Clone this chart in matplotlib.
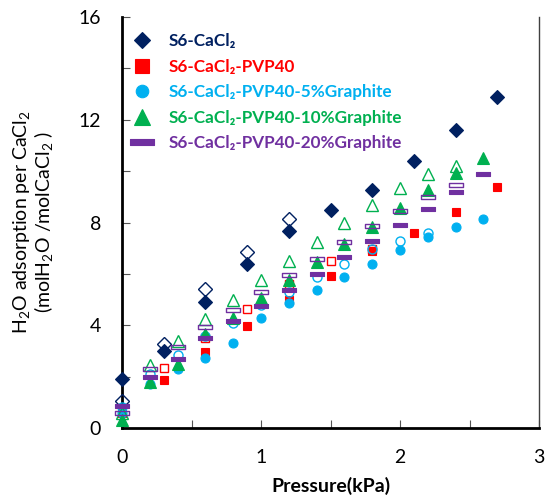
import matplotlib
matplotlib.use("Agg")
import matplotlib.pyplot as plt
from matplotlib.path import Path
from matplotlib.ticker import MultipleLocator

plt.rcParams['font.family'] = ['Lato', 'DejaVu Sans']
plt.rcParams['mathtext.fontset'] = 'custom'
plt.rcParams['mathtext.rm'] = 'Lato'
plt.rcParams['mathtext.bf'] = 'Lato:bold'

# ---------------- data ----------------
# S6-CaCl2
x_cacl2 = [0, 0.3, 0.6, 0.9, 1.2, 1.5, 1.8, 2.1, 2.4, 2.7]
y_cacl2 = [1.9, 3.0, 4.9, 6.4, 7.66, 8.5, 9.26, 10.4, 11.6, 12.9]
x_cacl2_o = [0, 0.3, 0.6, 0.9, 1.2]
y_cacl2_o = [1.05, 3.27, 5.4, 6.85, 8.13]

# S6-CaCl2-PVP40
x_pvp = [0, 0.3, 0.6, 0.9, 1.2, 1.5, 1.8, 2.1, 2.4, 2.7]
y_pvp = [0.6, 1.87, 2.95, 3.97, 4.98, 5.9, 6.88, 7.6, 8.4, 9.4]
x_pvp_o = [0.3, 0.6, 0.9, 1.2, 1.5, 1.8]
y_pvp_o = [2.33, 3.5, 4.63, 5.6, 6.5, 6.95]

# S6-CaCl2-PVP40-5%Graphite
x_g5 = [0, 0.2, 0.4, 0.6, 0.8, 1.0, 1.2, 1.4, 1.6, 1.8, 2.0, 2.2, 2.4, 2.6]
y_g5 = [0.6, 1.7, 2.3, 2.72, 3.3, 4.28, 4.86, 5.37, 5.88, 6.38, 6.93, 7.43, 7.82, 8.13]
x_g5_o = [0, 0.2, 0.4, 0.6, 0.8, 1.0, 1.2, 1.4, 1.6, 1.8, 2.0, 2.2]
y_g5_o = [0.8, 2.1, 2.84, 3.6, 4.1, 4.8, 5.3, 5.88, 6.4, 6.96, 7.28, 7.6]

# S6-CaCl2-PVP40-10%Graphite
x_g10 = [0, 0.2, 0.4, 0.6, 0.8, 1.0, 1.2, 1.4, 1.6, 1.8, 2.0, 2.2, 2.4, 2.6]
y_g10 = [0.3, 1.8, 2.5, 3.65, 4.3, 5.06, 5.76, 6.46, 7.16, 7.83, 8.55, 9.26, 9.92, 10.5]
x_g10_o = [0, 0.2, 0.4, 0.6, 0.8, 1.0, 1.2, 1.4, 1.6, 1.8, 2.0, 2.2, 2.4]
y_g10_o = [0.6, 2.45, 3.4, 4.24, 5.0, 5.76, 6.5, 7.24, 7.97, 8.68, 9.34, 9.88, 10.2]

# S6-CaCl2-PVP40-20%Graphite
x_g20 = [0, 0.2, 0.4, 0.6, 0.8, 1.0, 1.2, 1.4, 1.6, 1.8, 2.0, 2.2, 2.4, 2.6]
y_g20 = [0.85, 1.98, 2.7, 3.5, 4.16, 4.75, 5.37, 5.99, 6.66, 7.28, 7.9, 8.52, 9.18, 9.9]
x_g20_o = [0, 0.2, 0.4, 0.6, 0.8, 1.0, 1.2, 1.4, 1.6, 1.8, 2.0, 2.2, 2.4]
y_g20_o = [0.6, 2.3, 3.15, 3.93, 4.6, 5.3, 5.95, 6.58, 7.24, 7.86, 8.44, 8.99, 9.46]

labels = ['S6-CaCl₂', 'S6-CaCl₂-PVP40', 'S6-CaCl₂-PVP40-5%Graphite',
          'S6-CaCl₂-PVP40-10%Graphite', 'S6-CaCl₂-PVP40-20%Graphite']
colors = ['#002060', '#FF0000', '#00B0F0', '#00B050', '#7030A0']

# ---------------- figure ----------------
fig = plt.figure(figsize=(5.53, 5.04), dpi=100)
ax = fig.add_axes([122/553, 1-428/504, (539-122)/553, (428-17)/504])

dash = Path([(-0.5, -0.13), (0.5, -0.13), (0.5, 0.13), (-0.5, 0.13), (-0.5, -0.13)],
            [Path.MOVETO, Path.LINETO, Path.LINETO, Path.LINETO, Path.CLOSEPOLY])

series = [
    (x_cacl2, y_cacl2, x_cacl2_o, y_cacl2_o, 'D', 7.3),
    (x_pvp, y_pvp, x_pvp_o, y_pvp_o, 's', 6.3),
    (x_g5, y_g5, x_g5_o, y_g5_o, 'o', 6.5),
    (x_g10, y_g10, x_g10_o, y_g10_o, '^', 9.0),
    (x_g20, y_g20, x_g20_o, y_g20_o, dash, 9.5),
]
legend_ms = [8.3, 10.0, 9.0, 11.5, 17.5]

handles = []
for (xf, yf, xo, yo, m, ms), c, lab in zip(series, colors, labels):
    h, = ax.plot(xf, yf, linestyle='none', marker=m, markersize=ms,
                 markerfacecolor=c, markeredgecolor=c, markeredgewidth=0.8,
                 label=lab, clip_on=False, zorder=3)
    ax.plot(xo, yo, linestyle='none', marker=m, markersize=ms,
            markerfacecolor='none', markeredgecolor=c, markeredgewidth=1.0,
            clip_on=False, zorder=3)
    handles.append(h)

ax.set_xlim(0, 3)
ax.set_ylim(0, 16)
ax.xaxis.set_major_locator(MultipleLocator(1))
ax.xaxis.set_minor_locator(MultipleLocator(0.5))
ax.yaxis.set_major_locator(MultipleLocator(4))
ax.yaxis.set_minor_locator(MultipleLocator(2))
ax.tick_params(which='both', direction='in', length=6, width=0.8, color='#555555',
               labelsize=14, pad=15)
ax.tick_params(axis='y', which='both', left=True, right=False)
ax.tick_params(axis='x', which='both', bottom=True, top=False)

ax.spines['top'].set_visible(False)
ax.spines['left'].set_linewidth(2.0)
ax.spines['bottom'].set_linewidth(2.0)
ax.spines['right'].set_linewidth(1.0)
ax.spines['right'].set_color('#404040')

ax.set_xlabel('Pressure(kPa)', fontsize=14, fontweight='bold', labelpad=8)
fig.text(34/553, 1-222/504,
         'H$_2$O adsorption per CaCl$_2$\n(molH$_2$O /molCaCl$_2$ )',
         rotation=90, ha='center', va='center', fontsize=14, linespacing=1.0)

leg = ax.legend(handles=handles, loc='upper left', bbox_to_anchor=(-0.015, 0.99),
                frameon=False, labelspacing=0.56, handlelength=1.7,
                handletextpad=0.7, borderaxespad=0.3,
                prop={'weight': 'bold', 'size': 12.3})
for t, c in zip(leg.get_texts(), colors):
    t.set_color(c)
for lh, ms in zip(leg.legend_handles, legend_ms):
    lh.set_markersize(ms)

fig.savefig('out.png', dpi=100)
